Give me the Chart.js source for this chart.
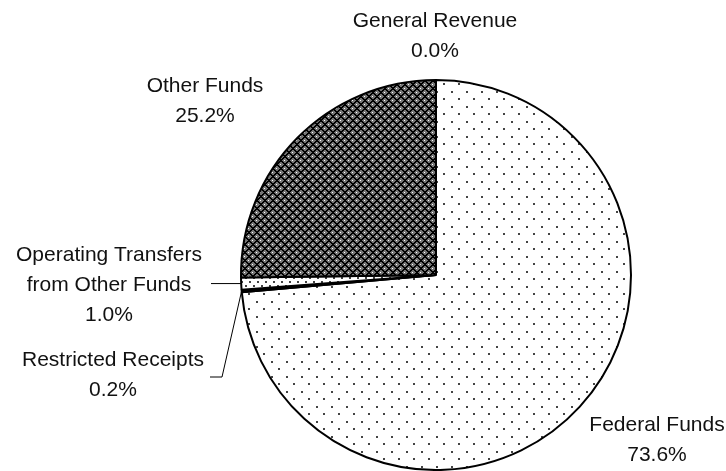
<!DOCTYPE html>
<html>
<head>
<meta charset="utf-8">
<script src="https://cdn.jsdelivr.net/npm/chart.js@4"></script>
<style>
  html, body { margin: 0; padding: 0; background: #fff; }
  canvas { display: block; }
</style>
</head>
<body>
<canvas id="fundChart" width="726" height="471"></canvas>
<script>
  // ===== Data =====
  const categories = ["General Revenue", "Federal Funds", "Restricted Receipts", "Operating Transfers from Other Funds", "Other Funds"];
  const shares = [0.0, 73.6, 0.2, 1.0, 25.2];
  const labelLines = [["General Revenue"], ["Federal Funds"], ["Restricted Receipts"], ["Operating Transfers", "from Other Funds"], ["Other Funds"]];
  const shareLabels = shares.map(v => v.toFixed(1) + "%");

  // ===== Label layout (centre x, middle of first line) =====
  const LINE_H = 30;
  const labelLayout = [
    { x: 435, y: 21 },
    { x: 657, y: 425 },
    { x: 113, y: 360 },
    { x: 109, y: 255 },
    { x: 205, y: 86 }
  ];
  // leader lines: from slice edge to these points (y null = keep edge y)
  const leaders = [
    { index: 3, points: [{ x: 211, y: null }] },
    { index: 2, points: [{ x: 222, y: 377 }, { x: 210, y: 377 }] }
  ];

  // ===== Fill patterns =====
  function makeTile(w, h, draw) {
    const c = document.createElement("canvas");
    c.width = w; c.height = h;
    const g = c.getContext("2d");
    draw(g);
    return document.getElementById("fundChart").getContext("2d").createPattern(c, "repeat");
  }

  const sparseDots = makeTile(15, 15, g => {
    g.fillStyle = "#fff"; g.fillRect(0, 0, 15, 15);
    g.fillStyle = "#444";
    g.fillRect(1, 1, 2, 2);
    g.fillRect(8, 8, 2, 2);
  });

  const denseDots = makeTile(8, 8, g => {
    g.fillStyle = "#fff"; g.fillRect(0, 0, 8, 8);
    g.fillStyle = "#444";
    g.fillRect(1, 1, 2, 2);
    g.fillRect(5, 5, 2, 2);
  });

  const crossHatch = makeTile(8, 8, g => {
    for (let y = 0; y < 8; y++) {
      for (let x = 0; x < 8; x++) {
        let col = "#747474";
        if ((x + y) % 8 < 2 || (x - y + 16) % 8 < 2) col = "#000";
        else if ((x === 4 && y === 0) || (x === 0 && y === 4)) col = "#fff";
        g.fillStyle = col;
        g.fillRect(x, y, 1, 1);
      }
    }
  });

  const fills = ["#fff", sparseDots, "#000", denseDots, crossHatch];

  // ===== Labels plugin =====
  const labelPlugin = {
    id: "sliceLabels",
    afterDraw(chart) {
      const ctx = chart.ctx;
      const arcs = chart.getDatasetMeta(0).data;
      ctx.save();
      ctx.fillStyle = "#111";
      ctx.font = "21px 'Liberation Sans', Arial, sans-serif";
      ctx.textAlign = "center";
      ctx.textBaseline = "middle";
      labelLayout.forEach((pos, i) => {
        const lines = labelLines[i].concat([shareLabels[i]]);
        lines.forEach((t, k) => ctx.fillText(t, pos.x, pos.y + k * LINE_H));
      });

      ctx.strokeStyle = "#000";
      ctx.lineWidth = 1;
      leaders.forEach(l => {
        const p = arcs[l.index].getProps(["x", "y", "startAngle", "endAngle", "outerRadius"], true);
        const mid = (p.startAngle + p.endAngle) / 2;
        const ex = p.x + Math.cos(mid) * p.outerRadius;
        const ey = p.y + Math.sin(mid) * p.outerRadius;
        ctx.beginPath();
        ctx.moveTo(ex, ey);
        l.points.forEach(pt => ctx.lineTo(pt.x, pt.y === null ? ey : pt.y));
        ctx.stroke();
      });
      ctx.restore();
    }
  };

  new Chart(document.getElementById("fundChart").getContext("2d"), {
    type: "pie",
    data: {
      labels: categories,
      datasets: [{
        data: shares,
        backgroundColor: fills,
        borderColor: "#000",
        borderWidth: 2
      }]
    },
    options: {
      responsive: false,
      animation: false,
      layout: { padding: { top: 79, bottom: 0, left: 240, right: 94 } },
      plugins: { legend: { display: false }, tooltip: { enabled: false } }
    },
    plugins: [labelPlugin]
  });
</script>
</body>
</html>
